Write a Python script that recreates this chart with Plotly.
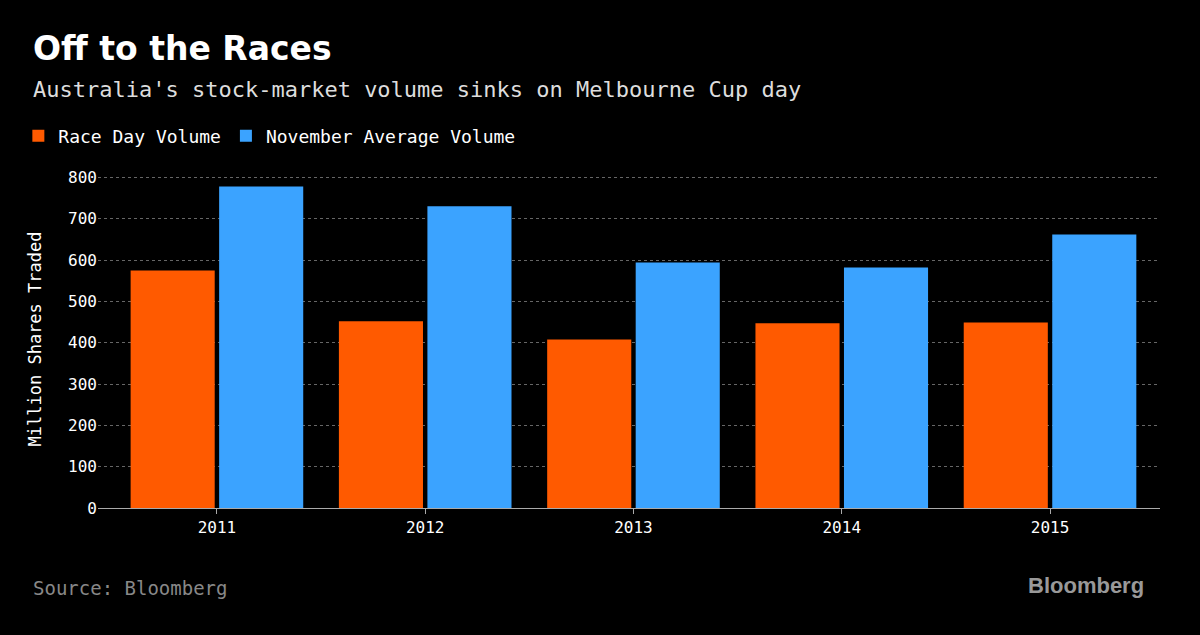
import plotly.graph_objects as go

years = ["2011", "2012", "2013", "2014", "2015"]
race_day = [575, 452, 408, 447, 449]
nov_avg = [778, 730, 594, 582, 662]

mono = "DejaVu Sans Mono"

fig = go.Figure()
fig.add_trace(go.Bar(x=years, y=race_day, name="Race Day Volume", marker_color="#ff5a00",
                     marker_line_width=0))
fig.add_trace(go.Bar(x=years, y=nov_avg, name="November Average Volume", marker_color="#3ba3ff",
                     marker_line_width=0))

fig.update_layout(
    width=1200, height=635,
    paper_bgcolor="black", plot_bgcolor="black",
    margin=dict(l=98, r=40, t=170, b=127),
    barmode="group", bargap=0.15, bargroupgap=0.05,
    font=dict(family=mono, color="white", size=16),
    showlegend=True,
    legend=dict(orientation="h", x=-0.075, y=0.815, xref="paper", yref="container",
                xanchor="left", yanchor="top", font=dict(size=18, color="white"),
                itemwidth=30, traceorder="normal"),
)
fig.update_xaxes(range=[-0.571, 4.528], showline=True, linecolor="#aaaaaa", ticks="outside",
                 tickcolor="#aaaaaa", ticklen=5, tickfont=dict(size=16, color="white"))
fig.update_yaxes(range=[0, 818], tickvals=[0, 100, 200, 300, 400, 500, 600, 700, 800],
                 showgrid=True, gridcolor="#666666", griddash="dot", zeroline=False,
                 tickfont=dict(size=16, color="white"),
                 title=dict(text="Million Shares Traded", font=dict(size=17, color="white"), standoff=22))

fig.add_annotation(text="<b>Off to the Races</b>", xref="paper", yref="paper", x=-0.063, y=1.0,
                   xanchor="left", yanchor="bottom", yshift=100, showarrow=False,
                   font=dict(family="DejaVu Sans", size=33, color="white"))
fig.add_annotation(text="Australia's stock-market volume sinks on Melbourne Cup day", xref="paper", yref="paper",
                   x=-0.063, y=1.0, xanchor="left", yanchor="bottom", yshift=66, showarrow=False,
                   font=dict(family=mono, size=22, color="#dddddd"))
fig.add_annotation(text="Source: Bloomberg", xref="paper", yref="paper", x=-0.063, y=0, yshift=-93,
                   xanchor="left", yanchor="bottom", showarrow=False,
                   font=dict(family=mono, size=19, color="#888888"))
fig.add_annotation(text="<b>Bloomberg</b>", xref="paper", yref="paper", x=0.987, y=0, yshift=-92,
                   xanchor="right", yanchor="bottom", showarrow=False,
                   font=dict(family="Liberation Sans", size=22, color="#999999"))

fig.write_html("out.html", config={"displayModeBar": False},
               post_script="document.body.style.margin='0';document.body.style.background='black';")
